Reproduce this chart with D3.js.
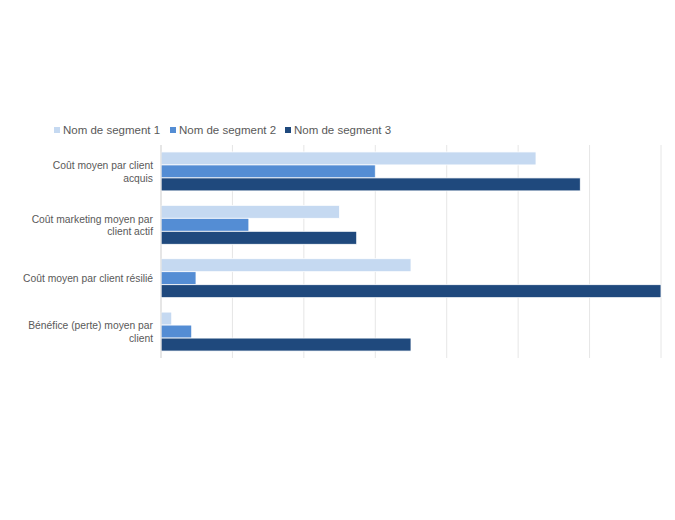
<!DOCTYPE html>
<html><head><meta charset="utf-8">
<script src="https://cdn.jsdelivr.net/npm/d3@7"></script>
<style>body{margin:0;background:#fff}text{font-family:"Liberation Sans",Arial,sans-serif;fill:#595959}</style>
</head><body><svg id="c" width="675" height="520"></svg>
<script>
const categories = [["Coût moyen par client","acquis"],["Coût marketing moyen par","client actif"],["Coût moyen par client résilié"],["Bénéfice (perte) moyen par","client"]];
const seriesNames = ["Nom de segment 1","Nom de segment 2","Nom de segment 3"];
const seg1 = [52.5, 25, 35, 1.5];
const seg2 = [30, 12.3, 4.9, 4.3];
const seg3 = [58.7, 27.4, 70, 35];
const colors = ["#c5d9f1","#548dd4","#1f497d"];
const series = [seg1, seg2, seg3];

const svg = d3.select("#c");
const x = d3.scaleLinear().domain([0,70]).range([161,661]);
const y = d3.scaleBand().domain(d3.range(categories.length)).range([145,358]).paddingInner(0.27).paddingOuter(0.13);
const inner = d3.scaleBand().domain(d3.range(3)).range([0,y.bandwidth()]);

svg.append("g").selectAll("line").data(x.ticks(7)).join("line")
  .attr("x1",d=>x(d)).attr("x2",d=>x(d)).attr("y1",145).attr("y2",358)
  .attr("stroke","#e6e6e6").attr("stroke-width",1);

series.forEach((vals,si)=>{
  svg.append("g").selectAll("rect").data(vals).join("rect")
    .attr("x",x(0)).attr("y",(d,i)=>y(i)+inner(si))
    .attr("width",d=>x(d)-x(0)).attr("height",inner.bandwidth())
    .attr("fill",colors[si]).attr("stroke","#fff").attr("stroke-width",0.8);
});
svg.append("line").attr("x1",161).attr("x2",161).attr("y1",145).attr("y2",358).attr("stroke","#d9d9d9");

categories.forEach((lines,i)=>{
  const cy = y(i)+y.bandwidth()/2;
  const t = svg.append("text").attr("text-anchor","end").attr("font-size",10.3);
  lines.forEach((l,j)=>t.append("tspan").attr("x",153).attr("y",cy+4 + (j-(lines.length-1)/2)*12.5).text(l));
});

const lx=[54,170,285];
seriesNames.forEach((n,i)=>{
  svg.append("rect").attr("x",lx[i]).attr("y",127).attr("width",6).attr("height",6).attr("fill",colors[i]);
  svg.append("text").attr("x",lx[i]+9).attr("y",134).attr("font-size",11.5).text(n);
});
</script></body></html>
